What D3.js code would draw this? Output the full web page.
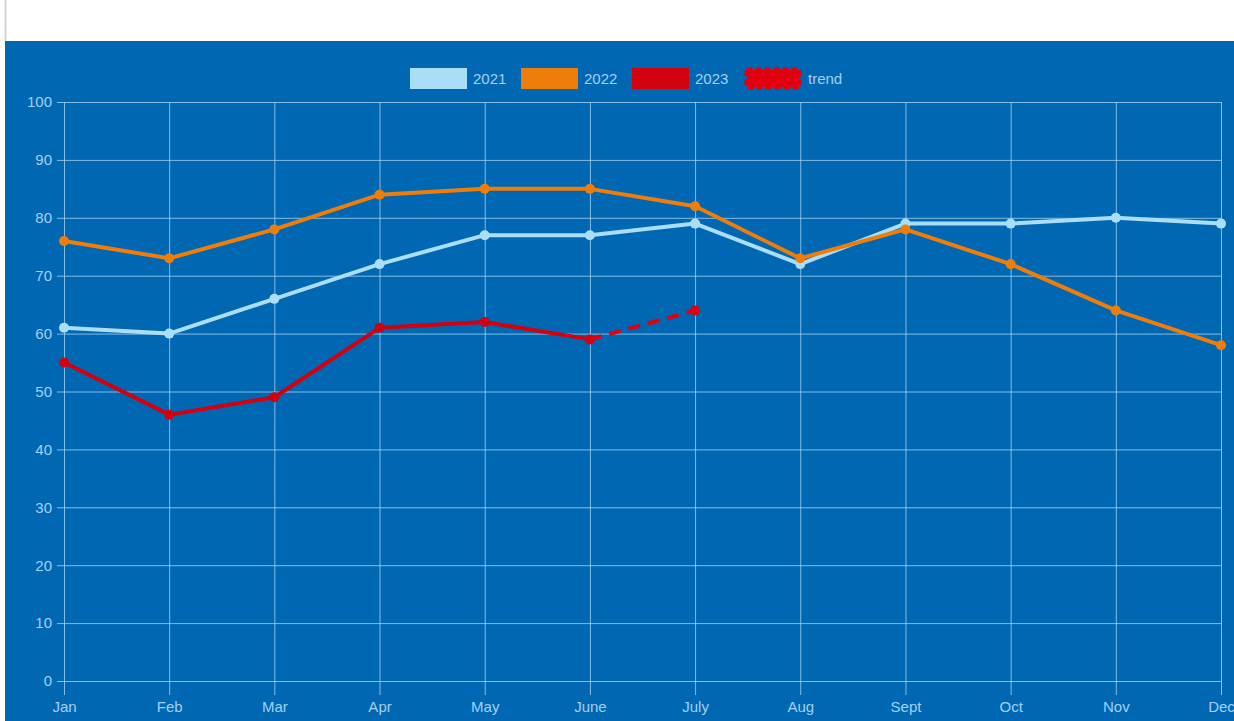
<!DOCTYPE html>
<html>
<head>
<meta charset="utf-8">
<script src="https://cdn.jsdelivr.net/npm/d3@7"></script>
<style>
  html, body { margin: 0; padding: 0; background: #ffffff; }
  svg { display: block; }
</style>
</head>
<body>
<svg id="chart" width="1234" height="721"></svg>
<script>
// Monthly values per year
const months = ["Jan", "Feb", "Mar", "Apr", "May", "June", "July", "Aug", "Sept", "Oct", "Nov", "Dec"];
const values2021 = [61, 60, 66, 72, 77, 77, 79, 72, 79, 79, 80, 79];
const values2022 = [76, 73, 78, 84, 85, 85, 82, 73, 78, 72, 64, 58];
const values2023 = [55, 46, 49, 61, 62, 59];
const trendMonths = ["June", "July"];
const trendValues = [59, 64];
const yTicks = [0, 10, 20, 30, 40, 50, 60, 70, 80, 90, 100];

const seriesNames = ["2021", "2022", "2023", "trend"];
const colors = { "2021": "#a9def6", "2022": "#ef7d0a", "2023": "#d3000f", "trend": "#e0000f" };

const W = 1234, H = 721;
const svg = d3.select("#chart");

// panel background
svg.append("rect").attr("x", 0).attr("y", 0).attr("width", W).attr("height", H).attr("fill", "#ffffff");
svg.append("line").attr("x1", 5.5).attr("x2", 5.5).attr("y1", 0).attr("y2", 42)
  .attr("stroke", "#d4d4d4").attr("stroke-width", 2);
svg.append("rect").attr("x", 5).attr("y", 41).attr("width", W - 5).attr("height", H - 41).attr("fill", "#0067b3");

const margin = { left: 64, right: 1221, top: 102, bottom: 681 };
const x = d3.scalePoint().domain(months).range([margin.left, margin.right]);
const y = d3.scaleLinear().domain([0, 100]).range([margin.bottom, margin.top]);

const gridColor = "rgba(175, 218, 246, 0.75)";
const labelColor = "#a3cff0";
const font = "'Liberation Sans', Arial, Helvetica, sans-serif";

// y axis with gridlines
const yAxis = d3.axisLeft(y).tickValues(yTicks)
  .tickSize(-(margin.right - margin.left)).tickSizeOuter(0).tickPadding(12);
const gy = svg.append("g").attr("transform", `translate(${margin.left},0)`).call(yAxis);
gy.select(".domain").remove();
gy.selectAll(".tick line").attr("stroke", gridColor).attr("stroke-width", 1)
  .attr("x1", -7);
gy.selectAll(".tick text").attr("fill", labelColor).attr("font-family", font)
  .attr("font-size", 15).attr("x", -12);

// x axis with gridlines
const xAxis = d3.axisBottom(x).tickSize(-(margin.bottom - margin.top)).tickSizeOuter(0).tickPadding(20);
const gx = svg.append("g").attr("transform", `translate(0,${margin.bottom})`).call(xAxis);
gx.select(".domain").remove();
gx.selectAll(".tick line").attr("stroke", gridColor).attr("stroke-width", 1).attr("y1", 14);
gx.selectAll(".tick text").attr("fill", labelColor).attr("font-family", font)
  .attr("font-size", 15).attr("y", 20).attr("dy", "0.71em");

// series lines and points
function drawSeries(cats, vals, color, dashed) {
  const data = vals.map((v, i) => ({ m: cats[i], v }));
  const line = d3.line().x(d => x(d.m)).y(d => y(d.v)).curve(d3.curveLinear);
  svg.append("path").datum(data).attr("d", line)
    .attr("fill", "none").attr("stroke", color).attr("stroke-width", 4)
    .attr("stroke-linejoin", "round").attr("stroke-linecap", "butt")
    .attr("stroke-dasharray", dashed ? "12 8" : null);
  svg.append("g").selectAll("circle").data(dashed ? data.slice(1) : data).join("circle")
    .attr("cx", d => x(d.m)).attr("cy", d => y(d.v)).attr("r", 5)
    .attr("fill", color);
}
drawSeries(months, values2021, colors["2021"], false);
drawSeries(months, values2022, colors["2022"], false);
drawSeries(months.slice(0, values2023.length), values2023, colors["2023"], false);
drawSeries(trendMonths, trendValues, colors["trend"], true);

// legend
const legendX = [410, 521, 632, 745];
const legend = svg.append("g");
seriesNames.forEach((name, i) => {
  const g = legend.append("g").attr("transform", `translate(${legendX[i]},68)`);
  if (name === "trend") {
    // solid swatch with a scalloped dashed rim
    g.append("rect").attr("x", 2).attr("y", 2).attr("width", 52).attr("height", 17)
      .attr("fill", colors[name]);
    g.append("rect").attr("x", 1.5).attr("y", 1.5).attr("width", 53).attr("height", 18)
      .attr("fill", "none").attr("stroke", colors[name]).attr("stroke-width", 4)
      .attr("stroke-dasharray", "6 3").attr("stroke-linejoin", "round");
  } else {
    g.append("rect").attr("x", 0).attr("y", 0).attr("width", 57).attr("height", 21)
      .attr("fill", colors[name]);
  }
  g.append("text").attr("x", 63).attr("y", 16).text(name)
    .attr("fill", labelColor).attr("font-family", font).attr("font-size", 15);
});
</script>
</body>
</html>
